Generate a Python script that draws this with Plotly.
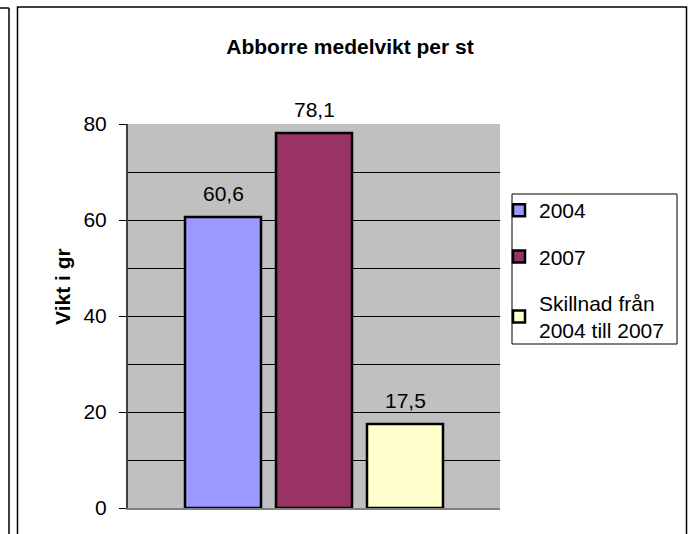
import plotly.graph_objects as go

series_names = ["2004", "2007", "Skillnad från<br>2004 till 2007"]
series_values = [60.6, 78.1, 17.5]
series_colors = ["#9999FF", "#993366", "#FFFFCC"]
y_ticks = [0, 20, 40, 60, 80]

FONT = "Liberation Sans, Arial, sans-serif"

# plot area in page pixels
L, R, T, B = 128, 500, 124, 508
W, H = R - L, B - T
def px(x):
    return (x - L) / W
def py(y):
    return (B - y) / H

slot = 91.0  # px between bar centers
half_span = (W / slot) / 2

fig = go.Figure()
for i, (n, v, c) in enumerate(zip(series_names, series_values, series_colors)):
    fig.add_trace(go.Bar(
        x=[i], y=[v], name=n, width=[76 / slot],
        marker=dict(color=c, line=dict(color="black", width=2.5)),
        legendgroup=f"g{i}", hoverinfo="y",
    ))
    fig.add_annotation(x=i, y=v, xref="x", yref="y", yshift=24, yanchor="middle",
                       text=f"{v:.1f}".replace(".", ","), showarrow=False,
                       font=dict(size=21, family=FONT, color="black"))

fig.update_layout(
    width=692, height=534,
    margin=dict(l=L, r=692 - R, t=T, b=534 - B),
    paper_bgcolor="white", plot_bgcolor="#C0C0C0",
    separators=",.",
    barmode="overlay",
    font=dict(family=FONT, size=21, color="black"),
    title=dict(text="<b>Abborre medelvikt per st</b>", x=350 / 692, xanchor="center",
               y=1 - 47 / 534, yanchor="middle", font=dict(size=21, family=FONT)),
    xaxis=dict(range=[1 - half_span, 1 + half_span], showticklabels=False, showgrid=False,
               zeroline=False, showline=True, linecolor="#808080", linewidth=2, ticks=""),
    yaxis=dict(range=[0, 80], tickvals=y_ticks, showgrid=True, gridcolor="black", gridwidth=1,
               minor=dict(dtick=10, showgrid=True, gridcolor="black", gridwidth=1),
               zeroline=False, showline=True, linecolor="#404040", linewidth=2,
               ticks="outside", ticklen=7, tickcolor="black", tickwidth=1,
               ticklabelstandoff=8,
               tickfont=dict(size=21, family=FONT)),
    legend=dict(x=px(499), y=py(190), xanchor="left", yanchor="top",
                borderwidth=0, bgcolor="rgba(0,0,0,0)",
                font=dict(size=21, family=FONT), tracegroupgap=16,
                traceorder="grouped"),
    showlegend=True,
)

fig.add_annotation(text="<b>Vikt i gr</b>", xref="paper", yref="paper",
                   x=px(62), y=py(287), xanchor="center", yanchor="middle",
                   textangle=-90, showarrow=False,
                   font=dict(size=21, family=FONT))

# legend box
fig.add_shape(type="rect", xref="paper", yref="paper",
              x0=px(512), x1=px(677), y0=py(344), y1=py(194),
              line=dict(color="black", width=1), fillcolor="white", layer="below")
# chart frame and neighbour frame edge
fig.add_shape(type="rect", xref="paper", yref="paper",
              x0=px(17.5), x1=px(686.5), y0=py(560), y1=py(7),
              line=dict(color="black", width=1.5), layer="below")
fig.add_shape(type="line", xref="paper", yref="paper",
              x0=px(9), x1=px(9), y0=py(8), y1=py(560),
              line=dict(color="black", width=1.5))
fig.add_shape(type="line", xref="paper", yref="paper",
              x0=px(-2), x1=px(9), y0=py(8), y1=py(8),
              line=dict(color="black", width=1.5))

fig.write_html(
    "out.html",
    config={"displayModeBar": False},
    post_script="document.body.style.margin='0';document.documentElement.style.overflow='hidden';",
)
